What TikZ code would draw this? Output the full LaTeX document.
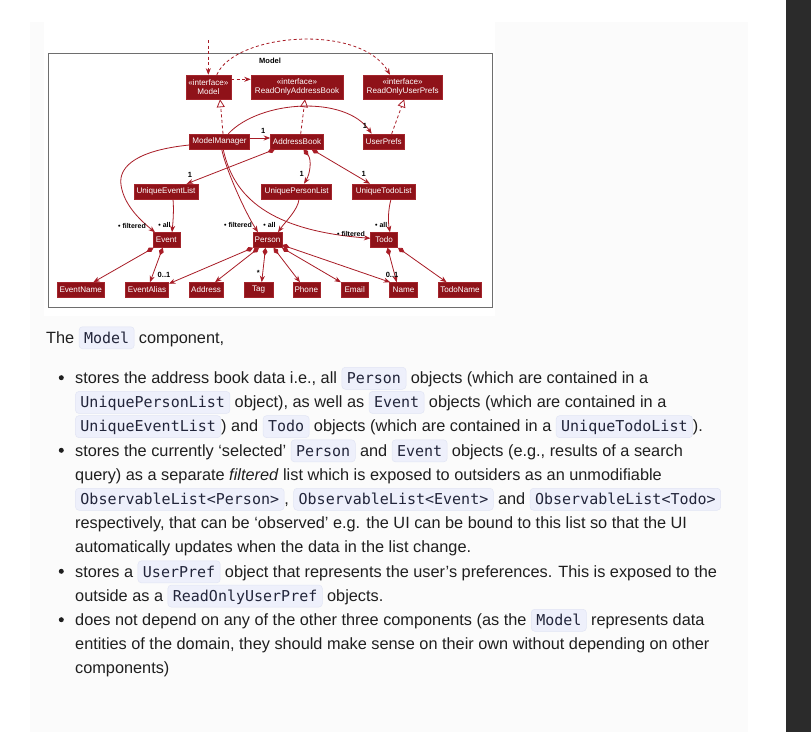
\documentclass[tikz,border=0pt]{standalone}
\usepackage{fontspec}
\setmainfont{Liberation Sans}
\setmonofont{DejaVu Sans Mono}
\usetikzlibrary{arrows.meta,calc}
\definecolor{boxred}{HTML}{8F1219}
\definecolor{boxline}{HTML}{A3252C}
\definecolor{edgered}{HTML}{A81C26}
\definecolor{panel}{HTML}{FBFBFB}
\definecolor{darkbar}{HTML}{2B2B2B}
\definecolor{codebg}{HTML}{EEF0FB}
\definecolor{codeborder}{HTML}{E2E5F4}
\definecolor{bodytext}{HTML}{1F1F1F}
\definecolor{codetext}{HTML}{22253A}
\definecolor{framegrey}{HTML}{6E6E6E}
\tikzset{
  codebox/.style={fill=codebg, draw=codeborder, line width=0.5pt, rounded corners=3.5pt,
    inner xsep=5pt, inner ysep=2.75pt, text height=13.5pt, text depth=3pt,
    text=codetext, font=\fontsize{15}{18}\ttfamily},
  bodyline/.style={anchor=base west, inner sep=0pt, text=bodytext, font=\fontsize{16.3}{20}\selectfont},
  bulletdot/.style={circle, fill=bodytext, inner sep=0pt, minimum size=5pt},
  cls/.style={fill=boxred, draw=boxline, line width=0.5pt, text=white,
    font=\fontsize{8.1}{9}\selectfont, minimum height=15pt, inner sep=0pt, align=center},
  iface/.style={cls, minimum height=24pt},
  lab/.style={font=\fontsize{7.5}{8}\selectfont\bfseries, text=black, inner sep=0pt},
  flab/.style={lab, font=\fontsize{7}{8}\selectfont\bfseries},
  ar/.style={draw=edgered, line width=0.8pt, -{Stealth[length=6.5pt,width=5pt,inset=2pt]}},
  dep/.style={ar, dash pattern=on 3pt off 2.5pt},
  real/.style={draw=edgered, line width=0.8pt, dash pattern=on 3pt off 2.5pt,
    -{Triangle[open,length=8pt,width=8pt,fill=white]}},
  comp/.style={draw=edgered, line width=0.8pt,
    {Diamond[length=8pt,width=5pt]}-{Stealth[length=6.5pt,width=5pt,inset=2pt]}},
}
\newcommand\cd[1]{\tikz[baseline=(cb.base)]\node[codebox](cb){#1};}
\begin{document}
\begin{tikzpicture}[x=1pt,y=-1pt]
\useasboundingbox (0,0) rectangle (811,732);
\fill[white] (0,0) rectangle (811,732);
\fill[panel] (30,22) rectangle (748,732);
\fill[darkbar] (786,0) rectangle (811,732);
\fill[white] (44,22) rectangle (495,316);
% package frame
\draw[framegrey, line width=0.8pt] (48.5,53.5) rectangle (492,307);
\node[font=\fontsize{7.5}{8}\selectfont\bfseries, inner sep=0pt] (pkg) at (270,60.5) {Model};
% classes
\node[iface, minimum width=45pt] (Model) at (208.3,87) {«interface»\\Model};
\node[iface, minimum width=92pt] (ROAB) at (297,87) {«interface»\\ReadOnlyAddressBook};
\node[iface, minimum width=79pt] (ROUP) at (402.7,87) {«interface»\\ReadOnlyUserPrefs};
\node[cls, minimum width=60pt] (MM) at (219.5,141.5) {ModelManager};
\node[cls, minimum width=53pt] (AB) at (297,141.5) {AddressBook};
\node[cls, minimum width=41pt] (UP) at (383.7,141.5) {UserPrefs};
\node[cls, minimum width=64pt] (UEL) at (166,191.5) {UniqueEventList};
\node[cls, minimum width=70pt] (UPL) at (296.7,191.5) {UniquePersonList};
\node[cls, minimum width=63pt] (UTL) at (383.7,191.5) {UniqueTodoList};
\node[cls, minimum width=27pt] (Event) at (166.3,240) {Event};
\node[cls, minimum width=28.5pt] (Person) at (267.5,240) {Person};
\node[cls, minimum width=27pt] (Todo) at (384.2,240) {Todo};
\node[cls, minimum width=47pt] (EName) at (80.7,290) {EventName};
\node[cls, minimum width=43pt] (EAlias) at (147,290) {EventAlias};
\node[cls, minimum width=34pt] (Addr) at (206,290) {Address};
\node[cls, minimum width=29pt] (Tag) at (258.7,290) {Tag};
\node[cls, minimum width=27pt] (Phone) at (306.3,290) {Phone};
\node[cls, minimum width=27pt] (Email) at (354.7,290) {Email};
\node[cls, minimum width=28pt] (Name) at (403.5,290) {Name};
\node[cls, minimum width=43pt] (TName) at (460,290) {TodoName};
% external dependency
\coordinate (ext) at (208.3,40);
\draw[dep] (ext) -- (Model.north);
\draw[dep] ([xshift=8.5pt]Model.north) .. controls (235,33) and (360,23) .. ([xshift=-12.7pt]ROUP.north);
\draw[dep] ([yshift=7.7pt]Model.east) -- ([yshift=7.7pt]ROAB.west);
% realizations
\draw[real] ([xshift=3.5pt]MM.north) -- ([xshift=11.8pt]Model.south);
\draw[real] ([xshift=3.7pt]AB.north) -- ([xshift=8pt]ROAB.south);
\draw[real] ([xshift=8pt]UP.north) -- ([xshift=1.5pt]ROUP.south);
% associations
\draw[ar] ([yshift=3.5pt]MM.east) -- ([yshift=3.5pt]AB.west);
\node[lab] (l1a) at (263.3,130.5) {1};
\draw[ar] ([xshift=8.8pt]MM.north) .. controls (260,100) and (345,95) .. ([xshift=-12pt]UP.north);
\node[lab] (l1b) at (365,125.5) {1};
\draw[comp] ([xshift=-22pt]AB.south) -- ([xshift=20.7pt]UEL.north);
\node[lab] (l1c) at (190,174.5) {1};
\draw[comp] ([xshift=6.5pt]AB.south) .. controls (312,160) and (310,174) .. ([xshift=7.3pt]UPL.north);
\node[lab] (l1d) at (301.7,173.5) {1};
\draw[comp] ([xshift=14.7pt]AB.south) -- ([xshift=-13.7pt]UTL.north);
\node[lab] (l1e) at (363.7,173.5) {1};
% filtered / all
\draw[ar] ([yshift=-3.5pt]MM.west) .. controls (140,150) and (118,165) .. (121,185)
  .. controls (124,205) and (140,220) .. ([xshift=-11.3pt]Event.north);
\node[flab] (lf1) at (132,225.5) {• filtered};
\draw[ar] ([xshift=7pt]UEL.south) .. controls (174,210) and (173,222) .. ([xshift=5.7pt]Event.north);
\node[flab] (la1) at (164.5,224.5) {• all};
\draw[ar] ([xshift=2.2pt]MM.south) .. controls (226,170) and (245,212) .. ([xshift=-9.5pt]Person.north);
\node[flab] (lf2) at (238,224.5) {• filtered};
\draw[ar] ([xshift=2.3pt]UPL.south) .. controls (298,210) and (285,222) .. ([xshift=10.5pt]Person.north);
\node[flab] (la2) at (269.5,224.5) {• all};
\draw[ar] ([xshift=3.7pt]MM.south) .. controls (232,190) and (260,230) .. ([yshift=1.7pt]Todo.west);
\node[flab] (lf3) at (351,234) {• filtered};
\draw[ar] ([xshift=7.3pt]UTL.south) .. controls (388,210) and (388,222) .. ([xshift=5.8pt]Todo.north);
\node[flab] (la3) at (381.2,224.5) {• all};
% compositions to leaves
\draw[comp] ([xshift=1pt]Event.south west) -- ([xshift=12.6pt]EName.north);
\draw[comp] ([xshift=-3.6pt]Event.south) -- ([xshift=3pt]EAlias.north);
\node[lab] (l01a) at (164,274.5) {0..1};
\draw[comp] (Person.south west) -- ([yshift=-1.5pt]EAlias.north east);
\draw[comp] ([xshift=-8.5pt]Person.south) -- ([xshift=9pt]Addr.north);
\draw[comp] ([xshift=-2pt]Person.south) -- ([xshift=3pt]Tag.north);
\node[lab] (lstar) at (258.3,272.5) {*};
\draw[comp] ([xshift=6pt]Person.south) -- ([xshift=-6.3pt]Phone.north);
\draw[comp] (Person.south east) -- (Email.north west);
\draw[comp] ([yshift=-5pt]Person.east) -- ([xshift=1pt]Name.north west);
\draw[comp] ([xshift=3.3pt]Todo.south) -- ([xshift=-6.8pt]Name.north);
\node[lab] (l01b) at (392,274.5) {0..1};
\draw[comp] (Todo.south east) -- ([xshift=8.4pt]TName.north west);
% text
\node[bodyline] (t0) at (46,343) {The \cd{Model} component,};
\node[bulletdot] (b1) at (61.3,377.7) {};
\node[bulletdot] (b2) at (61.3,450.3) {};
\node[bulletdot] (b3) at (61.3,571.3) {};
\node[bulletdot] (b4) at (61.3,619.7) {};
\node[bodyline] (t1) at (75,383.5) {stores the address book data i.e., all \cd{Person} objects (which are contained in a};
\node[bodyline] (t2) at (75,407.7) {\cd{UniquePersonList} object), as well as \cd{Event} objects (which are contained in a};
\node[bodyline] (t3) at (75,431.9) {\cd{UniqueEventList}) and \cd{Todo} objects (which are contained in a \cd{UniqueTodoList}).};
\node[bodyline] (t4) at (75,456.1) {stores the currently ‘selected’ \cd{Person} and \cd{Event} objects (e.g., results of a search};
\node[bodyline] (t5) at (75,480.3) {query) as a separate \textit{filtered} list which is exposed to outsiders as an unmodifiable};
\node[bodyline] (t6) at (75,504.5) {\cd{ObservableList<Person>}, \cd{ObservableList<Event>} and \cd{ObservableList<Todo>}};
\node[bodyline] (t7) at (75,528.7) {respectively, that can be ‘observed’ e.g. the UI can be bound to this list so that the UI};
\node[bodyline] (t8) at (75,552.9) {automatically updates when the data in the list change.};
\node[bodyline] (t9) at (75,577.1) {stores a \cd{UserPref} object that represents the user’s preferences. This is exposed to the};
\node[bodyline] (t10) at (75,601.3) {outside as a \cd{ReadOnlyUserPref} objects.};
\node[bodyline] (t11) at (75,625.5) {does not depend on any of the other three components (as the \cd{Model} represents data};
\node[bodyline] (t12) at (75,649.7) {entities of the domain, they should make sense on their own without depending on other};
\node[bodyline] (t13) at (75,673.9) {components)};
\end{tikzpicture}
\end{document}
